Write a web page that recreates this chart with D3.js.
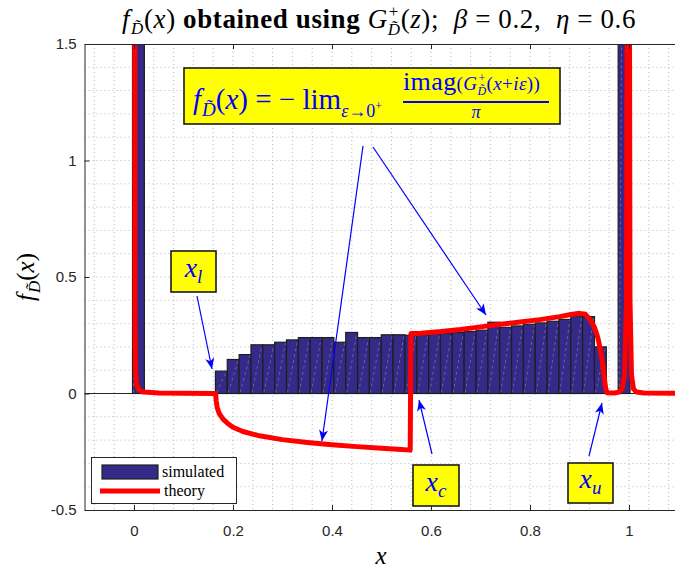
<!DOCTYPE html>
<html><head><meta charset="utf-8">
<script src="https://cdn.jsdelivr.net/npm/d3@7"></script>
<style>body{margin:0;background:#fff}svg{display:block}text{white-space:pre}</style>
</head><body>
<svg id="c" width="675" height="570"></svg>
<script>
// ---------- data ----------
const binStart = -0.003, binWidth = 0.02393;
const binHeights = [6.0, 0, 0, 0, 0, 0, 0,
  0.096, 0.146, 0.167, 0.209, 0.209, 0.220, 0.230, 0.240, 0.240, 0.240,
  0.220, 0.262, 0.240, 0.240, 0.252, 0.252, 0.250, 0.252, 0.256, 0.258,
  0.262, 0.266, 0.272, 0.306, 0.284, 0.290, 0.297, 0.303, 0.310, 0.318,
  0.332, 0.330, 0.200, 0, 6.0];
const theoryX = [0.0014, 0.0016, 0.002, 0.003, 0.005, 0.01, 0.02, 0.05, 0.1, 0.164,
  0.165, 0.166, 0.168, 0.172, 0.18, 0.19, 0.2, 0.22, 0.25, 0.3, 0.35, 0.4, 0.45, 0.5, 0.54, 0.558,
  0.5595, 0.58, 0.62, 0.66, 0.7, 0.74, 0.78, 0.82, 0.86, 0.88, 0.9, 0.912, 0.921, 0.93, 0.937,
  0.942, 0.946, 0.95, 0.953, 0.956, 0.97, 0.98, 0.986, 0.991, 0.995, 0.9975, 0.9986, 0.9998,
  1.002, 1.005, 1.009, 1.015, 1.03, 1.1];
const theoryY = [10, 1.0, 0.3, 0.1, 0.04, 0.015, 0.006, 0.002, 0.001, 0,
  0, -0.03, -0.06, -0.085, -0.11, -0.13, -0.145, -0.163, -0.18, -0.198, -0.21, -0.22, -0.228, -0.235, -0.24, -0.243,
  0.257, 0.259, 0.266, 0.275, 0.286, 0.297, 0.307, 0.317, 0.33, 0.338, 0.344, 0.34, 0.318, 0.285, 0.24,
  0.19, 0.14, 0.07, 0.02, 0.003, 0.002, 0.006, 0.02, 0.08, 0.4, 3, 10, 3,
  0.4, 0.08, 0.02, 0.006, 0.002, 0.001];
const xTicks = [0, 0.2, 0.4, 0.6, 0.8, 1];
const xTickLabels = ["0", "0.2", "0.4", "0.6", "0.8", "1"];
const yTicks = [-0.5, 0, 0.5, 1, 1.5];
const yTickLabels = ["-0.5", "0", "0.5", "1", "1.5"];
const legendLabels = ["simulated", "theory"];

// ---------- layout ----------
const L = 84.5, R = 678.5, T = 44, B = 510;
const svg = d3.select("#c");
const x = d3.scaleLinear([-0.1, 1.1], [L, R]);
const y = d3.scaleLinear([-0.5, 1.5], [B, T]);
const serif = "'Liberation Serif','DejaVu Serif',serif";
const sans = "'Liberation Sans',Arial,sans-serif";
const barFill = "#352a87", red = "#ff0000", blue = "#0000ff", axisCol = "#262626";

svg.append("defs").append("clipPath").attr("id", "pc")
  .append("rect").attr("x", L).attr("y", T).attr("width", R - L).attr("height", B - T);

// grid (dotted minor grid)
const grid = svg.append("g").attr("stroke", "#b8b8b8").attr("stroke-width", 1)
  .attr("stroke-dasharray", "1,3");
d3.range(-0.08, 1.1, 0.04).forEach(v => {
  grid.append("line").attr("x1", x(v)).attr("x2", x(v)).attr("y1", T).attr("y2", B);
});
d3.range(-4, 15, 1).forEach(k => {
  const v = k / 10;
  grid.append("line").attr("y1", y(v)).attr("y2", y(v)).attr("x1", L).attr("x2", R);
});

const plot = svg.append("g").attr("clip-path", "url(#pc)");
plot.append("line").attr("x1", L).attr("x2", R).attr("y1", y(0)).attr("y2", y(0))
  .attr("stroke", axisCol).attr("stroke-width", 1);

// bars
const bars = binHeights.map((h, i) => ({x0: binStart + i * binWidth, x1: binStart + (i + 1) * binWidth, h}))
  .filter(d => d.h > 0);
plot.selectAll("rect.bar").data(bars).join("rect").attr("class", "bar")
  .attr("x", d => x(d.x0)).attr("width", d => x(d.x1) - x(d.x0))
  .attr("y", d => y(d.h)).attr("height", d => y(0) - y(d.h))
  .attr("fill", barFill).attr("stroke", "#1e1e1e").attr("stroke-width", 1.2);
plot.selectAll("line.seam").data(bars).join("line").attr("class", "seam")
  .attr("x1", d => x(d.x0) + 1).attr("y1", y(0) - 1)
  .attr("x2", d => x(d.x1) - 1).attr("y2", d => y(d.h) + 1)
  .attr("stroke", "#9a96d0").attr("stroke-width", 0.7).attr("stroke-dasharray", "3,3").attr("opacity", 0.7);

// theory line
const tdata = theoryX.map((v, i) => [v, theoryY[i]]);
plot.append("path").datum(tdata)
  .attr("d", d3.line().x(d => x(d[0])).y(d => y(Math.min(d[1], 3))))
  .attr("fill", "none").attr("stroke", red).attr("stroke-width", 5)
  .attr("stroke-linejoin", "round").attr("stroke-linecap", "round");

// axes
const fmtX = (d, i) => xTickLabels[i], fmtY = (d, i) => yTickLabels[i];
const ax = svg.append("g").attr("transform", `translate(0,${B})`)
  .call(d3.axisBottom(x).tickValues(xTicks).tickFormat(fmtX).tickSize(-5).tickSizeOuter(0).tickPadding(15));
const axT = svg.append("g").attr("transform", `translate(0,${T})`)
  .call(d3.axisTop(x).tickValues(xTicks).tickFormat("").tickSize(-5).tickSizeOuter(0));
const ay = svg.append("g").attr("transform", `translate(${L},0)`)
  .call(d3.axisLeft(y).tickValues(yTicks).tickFormat(fmtY).tickSize(-5).tickSizeOuter(0).tickPadding(8));
[ax, axT, ay].forEach(a => {
  a.selectAll("path.domain").attr("stroke", axisCol).attr("stroke-width", 1);
  a.selectAll(".tick line").attr("stroke", axisCol);
  a.selectAll("text").attr("fill", axisCol).attr("font-family", sans).attr("font-size", 15);
});

// ---------- math text helper ----------
function mathText(g, items, fill, ls) {
  const grp = g.append("g").attr("font-family", serif).attr("fill", fill || "#000");
  if (ls) grp.attr("letter-spacing", ls);
  let cx = 0;
  const add = (it, px) => grp.append("text").attr("x", px + (it.dx || 0)).attr("y", it.dy || 0)
    .attr("font-size", it.s).attr("font-style", it.it ? "italic" : "normal")
    .attr("font-weight", it.b ? "bold" : "normal").text(it.t);
  items.forEach(it => {
    if (it.stack) {
      let w = 0;
      it.stack.forEach(s => { const e = add(s, cx); w = Math.max(w, e.node().getComputedTextLength() + (s.dx || 0)); });
      cx += w;
    } else {
      const e = add(it, cx);
      cx += e.node().getComputedTextLength() + (it.sp || 0);
    }
  });
  return {g: grp, w: cx};
}
const Dt = "D\u0303";

// title
const title = mathText(svg, [
  {t: "f", s: 27, it: 1, sp: 1}, {t: Dt, s: 17, it: 1, dy: 6}, {t: "(", s: 27}, {t: "x", s: 27, it: 1}, {t: ")", s: 27},
  {t: " obtained using ", s: 27, b: 1}, {t: "G", s: 27, it: 1},
  {stack: [{t: "+", s: 17, dy: -11, dx: 1}, {t: Dt, s: 17, it: 1, dy: 7}]},
  {t: "(", s: 27}, {t: "z", s: 27, it: 1}, {t: ");  ", s: 27}, {t: "β", s: 27, it: 1},
  {t: " = 0.2,  ", s: 27}, {t: "η", s: 27, it: 1}, {t: " = 0.6", s: 27}
], "#000", 0.6);
title.g.attr("transform", `translate(${379 - title.w / 2},28)`);

// y label
const yl = mathText(svg, [{t: "f", s: 25, it: 1, sp: 1}, {t: Dt, s: 17, it: 1, dy: 6}, {t: "(", s: 25}, {t: "x", s: 25, it: 1}, {t: ")", s: 25}]);
yl.g.attr("transform", `translate(34,${277 + yl.w / 2}) rotate(-90)`);
// x label
svg.append("text").attr("x", 381).attr("y", 564).attr("text-anchor", "middle")
  .attr("font-family", serif).attr("font-style", "italic").attr("font-size", 25).text("x");

// ---------- annotations ----------
const ann = svg.append("g");
function arrow(x1, y1, x2, y2) {
  ann.append("line").attr("x1", x1).attr("y1", y1).attr("x2", x2).attr("y2", y2)
    .attr("stroke", blue).attr("stroke-width", 1.2);
  const a = Math.atan2(y2 - y1, x2 - x1), len = 11, hw = 4.5, notch = 8;
  const p = (d, o) => [x2 - d * Math.cos(a) - o * Math.sin(a), y2 - d * Math.sin(a) + o * Math.cos(a)];
  ann.append("path").attr("d", "M" + [[x2, y2], p(len, hw), p(notch, 0), p(len, -hw)].map(q => q.join(",")).join("L") + "Z")
    .attr("fill", blue);
}
function box(x0, y0, w, h) {
  ann.append("rect").attr("x", x0).attr("y", y0).attr("width", w).attr("height", h)
    .attr("fill", "#ffff00").attr("stroke", "#1a1a1a").attr("stroke-width", 1.6);
}
arrow(363, 146, 322, 441);
arrow(373, 147, 486, 315);
arrow(197, 296, 212, 369);
arrow(432, 454, 419, 400);
arrow(589, 456, 602, 403);

// big formula box
box(184, 68, 376, 56);
const f1 = mathText(ann, [
  {t: "f", s: 29, it: 1, sp: 1}, {t: Dt, s: 19, it: 1, dy: 7}, {t: "(", s: 29}, {t: "x", s: 29, it: 1},
  {t: ") = − ", s: 29}, {t: "lim", s: 29}, {t: "ε", s: 18, it: 1, dy: 8}, {t: "→0", s: 18, dy: 8}, {t: "+", s: 12, dy: 1}
], blue);
f1.g.attr("transform", "translate(193,109)");
const num = mathText(ann, [
  {t: "imag", s: 26}, {t: "(", s: 19}, {t: "G", s: 19, it: 1},
  {stack: [{t: "+", s: 12, dy: -8, dx: 1}, {t: Dt, s: 12, it: 1, dy: 5}]},
  {t: "(", s: 19}, {t: "x", s: 19, it: 1}, {t: "+", s: 19}, {t: "iε", s: 19, it: 1}, {t: "))", s: 19}
], blue, 0.4);
const numX = 403;
num.g.attr("transform", `translate(${numX},90)`);
const fracW = Math.max(num.w, 146);
ann.append("line").attr("x1", numX).attr("x2", numX + fracW).attr("y1", 102).attr("y2", 102)
  .attr("stroke", blue).attr("stroke-width", 2.2);
ann.append("text").attr("x", numX + fracW / 2).attr("y", 118).attr("text-anchor", "middle")
  .attr("font-family", serif).attr("font-style", "italic").attr("font-size", 18).attr("fill", blue).text("π");

// small boxes
function labelBox(x0, y0, w, h, sub) {
  box(x0, y0, w, h);
  const m = mathText(ann, [{t: "x", s: 28, it: 1}, {t: sub, s: 19, it: 1, dy: 6}], blue);
  m.g.attr("transform", `translate(${x0 + w / 2 - m.w / 2},${y0 + h / 2 + 5})`);
}
labelBox(171, 251, 45, 41, "l");
labelBox(413, 465, 46, 41, "c");
labelBox(568, 463, 45, 40, "u");

// legend
const lg = svg.append("g");
lg.append("rect").attr("x", 91.5).attr("y", 457.5).attr("width", 145).attr("height", 46)
  .attr("fill", "#fff").attr("stroke", "#262626").attr("stroke-width", 1);
lg.append("rect").attr("x", 102).attr("y", 465).attr("width", 56).attr("height", 14)
  .attr("fill", barFill).attr("stroke", "#1e1e1e").attr("stroke-width", 1.2);
lg.append("line").attr("x1", 100).attr("x2", 160).attr("y1", 491).attr("y2", 491)
  .attr("stroke", red).attr("stroke-width", 5);
lg.selectAll("text").data(legendLabels).join("text")
  .attr("x", (d, i) => i ? 164 : 162).attr("y", (d, i) => i ? 496 : 477)
  .attr("font-family", serif).attr("font-size", 16).attr("fill", "#000").text(d => d);
</script>
</body></html>
